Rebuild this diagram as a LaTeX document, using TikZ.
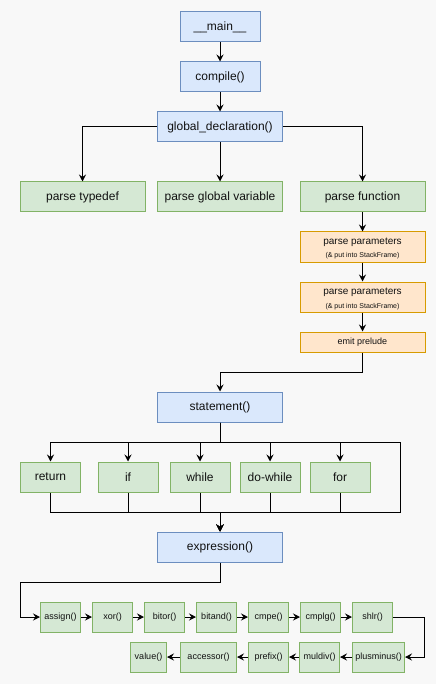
\documentclass[tikz,border=0pt]{standalone}
\usepackage{fontspec}
\setmainfont{Liberation Sans}
\usetikzlibrary{arrows.meta}
\definecolor{bluef}{HTML}{DAE8FC}\definecolor{bluel}{HTML}{6C8EBF}
\definecolor{greenf}{HTML}{D5E8D4}\definecolor{greenl}{HTML}{82B366}
\definecolor{orangef}{HTML}{FFE6CC}\definecolor{orangel}{HTML}{D79B00}
\definecolor{bg}{HTML}{F8F8F8}
\definecolor{txt}{HTML}{111111}
\tikzset{
  bx/.style={draw, rectangle, inner sep=0pt, line width=1pt, minimum height=30pt, text=txt},
  bluebox/.style={bx, fill=bluef, draw=bluel, font=\fontsize{12}{14}\selectfont},
  greenbox/.style={bx, fill=greenf, draw=greenl, font=\fontsize{12}{14}\selectfont},
  smallgreen/.style={bx, fill=greenf, draw=greenl, font=\fontsize{9}{11}\selectfont},
  orangebox/.style={bx, fill=orangef, draw=orangel, minimum width=125pt},
  lbl/.style={anchor=base, inner sep=0pt, text=txt},
  arr/.style={draw=black, line width=1pt, -{Stealth[length=7pt,width=7pt,inset=2.5pt]}},
  ln/.style={draw=black, line width=1pt},
}
\begin{document}
\begin{tikzpicture}[x=1pt,y=-1pt]
\fill[bg] (0,0) rectangle (436,684);
\useasboundingbox (0,0) rectangle (436,684);
% top
\node[bluebox, minimum width=80pt] (main) at (220,27) {\_\_main\_\_};
\node[bluebox, minimum width=80pt] (comp) at (220,77) {compile()};
\node[bluebox, minimum width=125pt] (gd) at (220,127) {global\_declaration()};
\node[greenbox, minimum width=125pt] (td) at (82.5,197) {parse typedef};
\node[greenbox, minimum width=125pt] (gv) at (220,197) {parse global variable};
\node[greenbox, minimum width=125pt] (pf) at (362.5,197) {parse function};
% function part
\node[orangebox] (pp1) at (362.5,247) {};
\node[lbl, font=\fontsize{10}{12}\selectfont] (pp1a) at (362.5,244.5) {parse parameters};
\node[lbl, font=\fontsize{7}{8}\selectfont] (pp1b) at (362.5,258) {(\& put into StackFrame)};
\node[orangebox] (pp2) at (362.5,297) {};
\node[lbl, font=\fontsize{10}{12}\selectfont] (pp2a) at (362.5,294.5) {parse parameters};
\node[lbl, font=\fontsize{7}{8}\selectfont] (pp2b) at (362.5,308) {(\& put into StackFrame)};
\node[orangebox, minimum height=20pt, font=\fontsize{9}{11}\selectfont] (ep) at (362.5,342) {emit prelude};
% statements
\node[bluebox, minimum width=125pt] (st) at (220,407) {statement()};
\node[greenbox, minimum width=60pt] (ret) at (50.5,477) {return};
\node[greenbox, minimum width=60pt] (if) at (128,477) {if};
\node[greenbox, minimum width=60pt] (wh) at (200,477) {while};
\node[greenbox, minimum width=60pt] (dw) at (270,477) {do-while};
\node[greenbox, minimum width=60pt] (for) at (340,477) {for};
\node[bluebox, minimum width=125pt] (ex) at (220,547) {expression()};
% expression chain
\node[smallgreen, minimum width=40pt] (as) at (60.5,617) {assign()};
\node[smallgreen, minimum width=40pt] (xo) at (112.5,617) {xor()};
\node[smallgreen, minimum width=40pt] (bo) at (164.5,617) {bitor()};
\node[smallgreen, minimum width=40pt] (ba) at (216.5,617) {bitand()};
\node[smallgreen, minimum width=40pt] (ce) at (268.5,617) {cmpe()};
\node[smallgreen, minimum width=40pt] (cl) at (320.5,617) {cmplg()};
\node[smallgreen, minimum width=40pt] (sh) at (372.5,617) {shlr()};
\node[smallgreen, minimum width=52pt] (pm) at (378.5,657) {plusminus()};
\node[smallgreen, minimum width=40pt] (md) at (319.5,657) {muldiv()};
\node[smallgreen, minimum width=40pt] (pr) at (268.5,657) {prefix()};
\node[smallgreen, minimum width=56pt] (ac) at (208.5,657) {accessor()};
\node[smallgreen, minimum width=36pt] (va) at (148.5,657) {value()};
% coordinates
\coordinate (topR) at (400,442);
\coordinate (botR) at (400,512);
\coordinate (exL) at (20,617);
% connectors
\draw[arr] (main) -- (comp);
\draw[arr] (comp) -- (gd);
\draw[arr] (gd.west) -| (td.north);
\draw[arr] (gd.south) -- (gv.north);
\draw[arr] (gd.east) -| (pf.north);
\draw[arr] (pf) -- (pp1);
\draw[arr] (pp1) -- (pp2);
\draw[arr] (pp2) -- (ep);
\draw[arr] (ep.south) -- ++(0,20) -| (st.north);
\foreach \n in {ret,if,wh,dw,for}{
  \draw[arr] (st.south) -- ++(0,20) -| (\n.north);
  \draw[arr] (\n.south) -- ++(0,20) -| (ex.north);
}
\draw[ln] (st.south) |- (topR);
\draw[arr] (topR) -- (botR) -| (ex.north);
\draw[arr] (ex.south) -- ++(0,20) -| (exL) -- (as.west);
\draw[arr] (as) -- (xo);
\draw[arr] (xo) -- (bo);
\draw[arr] (bo) -- (ba);
\draw[arr] (ba) -- (ce);
\draw[arr] (ce) -- (cl);
\draw[arr] (cl) -- (sh);
\draw[arr] (sh.east) -- ++(31,0) |- (pm.east);
\draw[arr] (pm) -- (md);
\draw[arr] (md) -- (pr);
\draw[arr] (pr) -- (ac);
\draw[arr] (ac) -- (va);
\end{tikzpicture}
\end{document}
